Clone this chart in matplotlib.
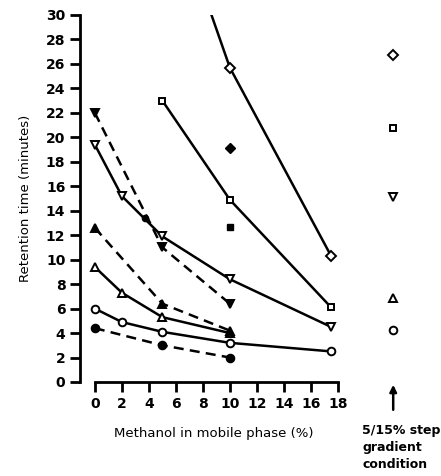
import matplotlib.pyplot as plt

# Data: retention time (minutes) vs methanol in mobile phase (%)
x_circ_f = [0, 5, 10]
y_circ_f = [4.4, 3.0, 2.0]

x_circ_o = [0, 2, 5, 10, 17.5]
y_circ_o = [6.0, 4.9, 4.1, 3.2, 2.5]

x_tri_o = [0, 2, 5, 10]
y_tri_o = [9.4, 7.3, 5.3, 4.0]

x_tri_f = [0, 5, 10]
y_tri_f = [12.6, 6.4, 4.2]

x_itri_o = [0, 2, 5, 10, 17.5]
y_itri_o = [19.4, 15.2, 11.9, 8.4, 4.5]

x_itri_f = [0, 5, 10]
y_itri_f = [22.0, 11.0, 6.4]
dot_x, dot_y = 3.7, 13.4

x_sq_o = [5, 10, 17.5]
y_sq_o = [23.0, 14.9, 6.1]

x_dia_o = [5, 10, 17.5]
y_dia_o = [41.5, 25.7, 10.3]

single_dia = (10, 19.1)
single_sq = (10, 12.7)

# 5/15% step gradient condition
grad_x = 22.1
grad_y = {'D': 26.7, 's': 20.8, 'v': 15.1, '^': 6.9, 'o': 4.25}

x_ticks = list(range(0, 19, 2))
y_ticks = list(range(0, 31, 2))

fig = plt.figure(figsize=(4.41, 4.76), dpi=100)
ax = fig.add_axes([0.1814, 0.1975, 0.799, 0.771])

lw = 1.8
ms = 5.5

def line(x, y, marker, filled, dashed, size=ms):
    ls = (0, (4, 2.5)) if dashed else '-'
    fc = 'black' if filled else 'white'
    ax.plot(x, y, color='black', lw=lw, ls=ls, marker=marker, ms=size,
            mfc=fc, mec='black', mew=1.4, clip_on=True)

line(x_circ_f, y_circ_f, 'o', True, True)
line(x_circ_o, y_circ_o, 'o', False, False)
line(x_tri_o, y_tri_o, '^', False, False)
line(x_tri_f, y_tri_f, '^', True, True)
line(x_itri_o, y_itri_o, 'v', False, False)
line(x_itri_f, y_itri_f, 'v', True, True)
ax.plot([dot_x], [dot_y], 'o', color='black', ms=4.5)
line(x_sq_o, y_sq_o, 's', False, False, size=5)
line(x_dia_o, y_dia_o, 'D', False, False, size=5)

ax.plot([single_dia[0]], [single_dia[1]], 'D', color='black', ms=5)
ax.plot([single_sq[0]], [single_sq[1]], 's', color='black', ms=5)

for m, v in grad_y.items():
    s = 5 if m in ('D', 's') else ms
    ax.plot([grad_x], [v], m, mfc='white', mec='black', mew=1.4, ms=s)

ax.set_xlim(-1.1, 25)
ax.set_ylim(0, 30)
ax.spines['top'].set_visible(False)
ax.spines['right'].set_visible(False)
ax.spines['bottom'].set_bounds(0, 18)
ax.spines['left'].set_bounds(0, 30)
ax.spines['left'].set_linewidth(2)
ax.spines['bottom'].set_linewidth(2)

ax.set_xticks(x_ticks)
ax.set_yticks(y_ticks)
ax.tick_params(axis='both', direction='out', width=2, length=7,
               labelsize=10)
for lab in ax.get_xticklabels() + ax.get_yticklabels():
    lab.set_fontweight('bold')

ax.set_xlabel('Methanol in mobile phase (%)', fontsize=9.5, x=0.38, labelpad=12)
ax.set_ylabel('Retention time (minutes)', fontsize=9.5, labelpad=10)

ax.annotate('', xy=(grad_x, 0), xytext=(grad_x, -2.5), annotation_clip=False,
            arrowprops=dict(arrowstyle='-|>', color='black', lw=1.8,
                            mutation_scale=10))
ax.text(19.8, -3.4, '5/15% step\ngradient\ncondition', fontsize=9,
        fontweight='bold', va='top', ha='left', linespacing=1.4)

fig.savefig('out.png', dpi=100)
